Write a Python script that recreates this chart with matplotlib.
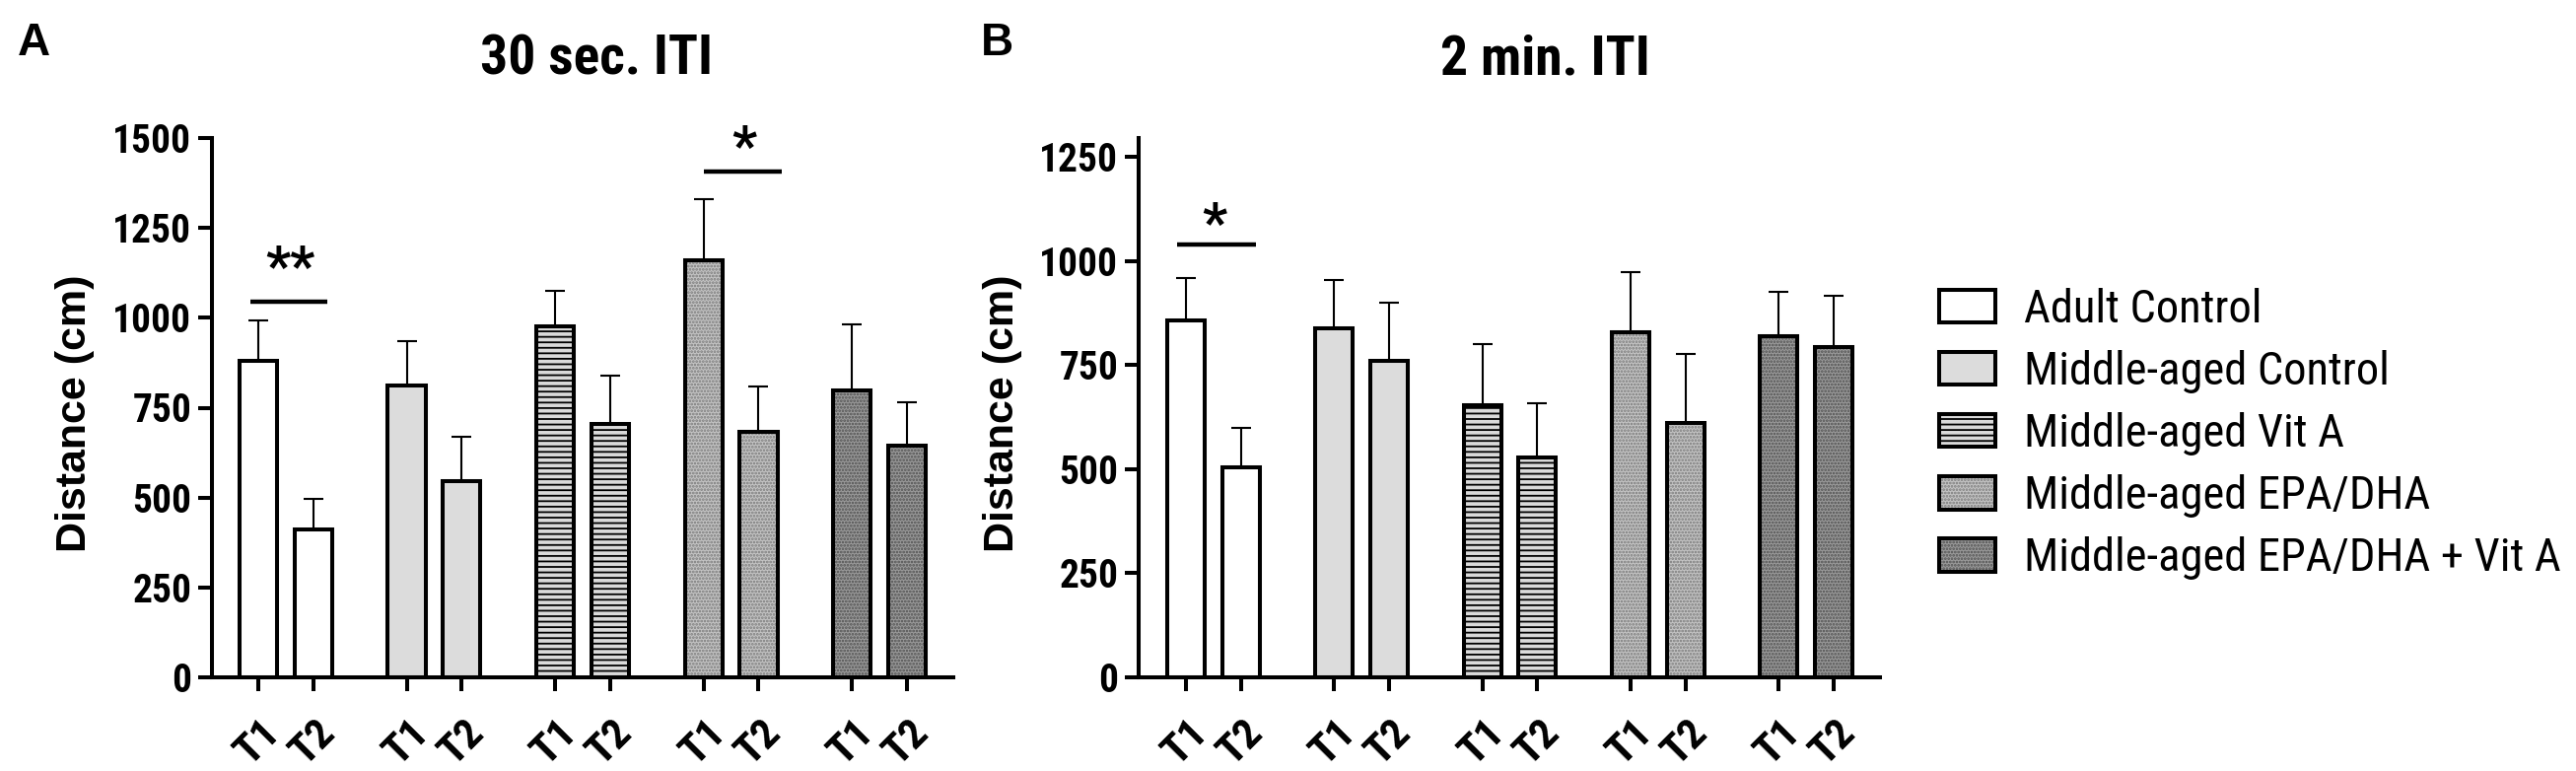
import os
import numpy as np
import matplotlib
matplotlib.use('Agg')
import matplotlib.pyplot as plt
from matplotlib import font_manager
from matplotlib.font_manager import FontProperties
from matplotlib.patches import Patch
import matplotlib.transforms as mtransforms

plt.rcParams['font.family'] = ['Liberation Sans', 'DejaVu Sans']
plt.rcParams['hatch.linewidth'] = 1.3


# a narrow sans like the GraphPad labels, if one is installed
def narrow_font(bold):
	prefs = ['liberationsansnarrow', 'arialnarrow', 'notosans-condensed',
		'opensans-condensed', 'opensans_condensed', 'robotocondensed']
	best = None
	for f in font_manager.fontManager.ttflist:
		b = os.path.basename(f.fname).lower()
		if 'italic' in b or 'oblique' in b or 'extra' in b or 'semi' in b \
				or 'light' in b or 'medium' in b or 'black' in b or 'thin' in b:
			continue
		isbold = 'bold' in b
		if isbold != bold:
			continue
		for rank, p in enumerate(prefs):
			if b.startswith(p):
				if best is None or rank < best[0]:
					best = (rank, f.fname)
	if best:
		return FontProperties(fname=best[1])
	return FontProperties(family='Liberation Sans', weight='bold' if bold else 'normal')


nb = narrow_font(True)
nr = narrow_font(False)
bold = FontProperties(family='Liberation Sans', weight='bold')

groups = ['Adult Control', 'Middle-aged Control', 'Middle-aged Vit A',
          'Middle-aged EPA/DHA', 'Middle-aged EPA/DHA + Vit A']
trials = ['T1', 'T2']

# panel A, 30 sec ITI
a_t1 = [881, 813, 977, 1160, 799]
a_t1_sem = [113, 123, 98, 170, 184]
a_t2 = [410, 545, 706, 683, 645]
a_t2_sem = [86, 123, 133, 127, 120]

# panel B, 2 min ITI
b_t1 = [857, 837, 654, 828, 820]
b_t1_sem = [103, 117, 147, 146, 106]
b_t2 = [504, 760, 528, 611, 793]
b_t2_sem = [95, 140, 131, 166, 123]

fills = ['white', '#dcdcdc', '#dadada', '#c4c4c4', '#9a9a9a']
hatches = [None, None, '---', '.....', '.....']
hatch_cols = ['black', 'black', 'black', '#7a7a7a', '#505050']

step = 2.69
pos_t1 = np.arange(len(groups)) * step
pos_t2 = pos_t1 + 1
width = 0.68
LW = 2.9

fig = plt.figure(figsize=(26.13, 7.82), dpi=100)
W, H = 2613, 782
rend = fig.canvas.get_renderer()


def fit(text, prop, target):
	# font size that makes text about target pixels wide
	t = fig.text(0, 0, text, fontproperties=prop, fontsize=100)
	w = t.get_window_extent(rend).width
	t.remove()
	return 100 * target / w


s_ytick = min(fit('1500', nb, 80), 30)
s_xtick = s_ytick * 1.1
s_title = min(fit('30 sec. ITI', nb, 236), 44)
s_leg = min(fit(groups[-1], nr, 545), 34)
s_ylab = fit('Distance (cm)', bold, 282)
s_star = s_ytick * 1.4


def panel(left, t1, t1e, t2, t2e, ymax, yticks, xlo):
	ax = fig.add_axes([left / W, 1 - 687 / H, 752 / W, 547 / H])
	for vals, errs, pos in [(t1, t1e, pos_t1), (t2, t2e, pos_t2)]:
		for i in range(len(groups)):
			ax.bar(pos[i], vals[i], width, color=fills[i], hatch=hatches[i],
				edgecolor=hatch_cols[i], linewidth=0, zorder=2)
			ax.bar(pos[i], vals[i], width, fill=False, edgecolor='black',
				linewidth=LW, zorder=3)
		ax.errorbar(pos, vals, yerr=[np.zeros(len(vals)), errs], fmt='none',
			ecolor='black', elinewidth=1.5, capsize=7, capthick=1.5, zorder=1)
	ax.set_xlim(xlo, pos_t2[-1] + 0.84)
	ax.set_ylim(0, ymax)
	ax.set_yticks(yticks)
	ax.set_yticklabels([str(v) for v in yticks], fontproperties=nb, fontsize=s_ytick)
	ticks = np.sort(np.concatenate([pos_t1, pos_t2]))
	ax.set_xticks(ticks)
	ax.set_xticklabels(trials * len(groups), rotation=45, ha='center',
		va='top', fontproperties=nb, fontsize=s_xtick)
	shift = mtransforms.ScaledTranslation(-5 / 100, 0, fig.dpi_scale_trans)
	for lab in ax.get_xticklabels():
		lab.set_transform(lab.get_transform() + shift)
	for s in ['top', 'right']:
		ax.spines[s].set_visible(False)
	for s in ['left', 'bottom']:
		ax.spines[s].set_linewidth(LW)
	ax.tick_params(axis='both', length=10, width=LW)
	ax.tick_params(axis='x', pad=15)
	ax.tick_params(axis='y', pad=5)
	ax.set_ylabel('Distance (cm)', fontproperties=bold, fontsize=s_ylab)
	return ax


axA = panel(215, a_t1, a_t1_sem, a_t2, a_t2_sem, 1500,
	[0, 250, 500, 750, 1000, 1250, 1500], -0.84)
axB = panel(1155, b_t1, b_t1_sem, b_t2, b_t2_sem, 1295,
	[0, 250, 500, 750, 1000, 1250], -0.86)
axA.yaxis.set_label_coords(-0.158, 0.49)
axB.yaxis.set_label_coords(-0.157, 0.49)


def sig(ax, x0, x1, y, text, tx, ty):
	ax.plot([x0, x1], [y, y], color='black', lw=3.2, clip_on=False,
		solid_capstyle='butt')
	ax.text(tx, ty, text, ha='center', va='baseline', fontproperties=nb,
		fontsize=s_star, clip_on=False)

sig(axA, -0.14, 1.25, 1045, '**', 0.57, 1091)
sig(axA, pos_t1[3] + 0.01, pos_t2[3] + 0.42, 1406, '*', pos_t1[3] + 0.74, 1425)
sig(axB, -0.16, 1.27, 1039, '*', 0.52, 1047)

fig.text(605 / W, 1 - 76 / H, '30 sec. ITI', ha='center', va='baseline',
	fontproperties=nb, fontsize=s_title)
fig.text(1567 / W, 1 - 76 / H, '2 min. ITI', ha='center', va='baseline',
	fontproperties=nb, fontsize=s_title)
fig.text(18 / W, 1 - 56 / H, 'A', ha='left', va='baseline',
	fontproperties=bold, fontsize=33)
fig.text(995 / W, 1 - 56 / H, 'B', ha='left', va='baseline',
	fontproperties=bold, fontsize=33)

handles = []
for i in range(len(groups)):
	tex = Patch(facecolor=fills[i], hatch=hatches[i], edgecolor=hatch_cols[i], linewidth=0)
	box = Patch(fill=False, edgecolor='black', linewidth=LW)
	handles.append((tex, box))
lp = nr.copy()
lp.set_size(s_leg)
fs_px = s_leg * 100 / 72
fig.legend(handles, groups, loc='center left',
	bbox_to_anchor=(1967 / W, 1 - 440 / H), frameon=False, borderpad=0,
	borderaxespad=0, prop=lp,
	handlelength=57 / fs_px, handleheight=34 / fs_px, handletextpad=29 / fs_px,
	labelspacing=(68 - fs_px * 1.05) / fs_px)

fig.savefig('out.png', dpi=100)
